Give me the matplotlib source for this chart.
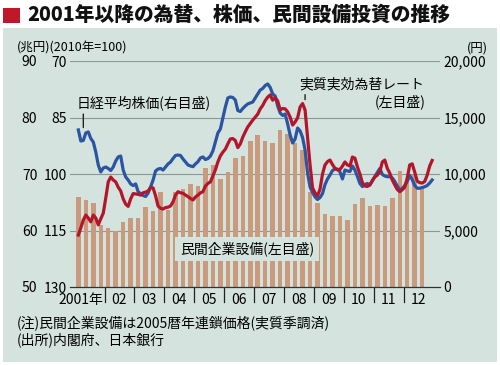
import matplotlib
matplotlib.use('Agg')
import matplotlib.pyplot as plt
from matplotlib.patches import Rectangle
from matplotlib.ticker import FuncFormatter
import matplotlib.transforms as mtransforms

plt.rcParams['font.family'] = ['Noto Sans CJK JP', 'DejaVu Sans']

# 民間企業設備 (兆円, 四半期, 2001Q1-2012Q3)
capex = [66.0, 65.4, 64.9, 61.0, 60.5, 59.9, 61.5, 62.2, 62.2, 64.2,
         63.5, 66.8, 63.6, 66.9, 67.3, 68.2, 67.8, 71.0, 71.6, 69.2,
         70.4, 72.8, 73.2, 75.8, 76.9, 75.8, 75.5, 77.8, 77.1, 75.4,
         74.2, 66.9, 64.8, 63.0, 62.6, 62.6, 61.9, 64.7, 65.8, 64.4,
         64.5, 64.4, 65.8, 70.6, 68.5, 69.8, 67.7]

# 日経平均株価 (円, 月次, 2001/1-2012/11)
nikkei = [13900, 12920, 12970, 13630, 13720, 13140, 12830, 11950, 10800, 10180, 10530, 10620,
          10490, 10310, 10620, 11150, 11510, 11590, 10350, 9740, 9470, 9120, 8980, 9120,
          8430, 8270, 8100, 8010, 8320, 8850, 9470, 10270, 10440, 10490, 10350, 10620,
          10890, 11060, 11370, 11640, 11680, 11640, 11330, 11060, 10800, 10710, 10650, 10890,
          11090, 11420, 11510, 11280, 11370, 11590, 12040, 12830, 13630, 13980, 14960, 15930,
          16730, 16820, 16770, 16550, 15620, 15530, 15800, 16020, 16200, 16280, 16370, 16730,
          17080, 17430, 17570, 17830, 17970, 17660, 17080, 16900, 16020, 15400, 15180, 15310,
          14430, 13450, 12740, 13100, 14070, 13810, 13230, 12120, 10090, 8850, 8360, 7970,
          7740, 7920, 8270, 9070, 9560, 9910, 10310, 10440, 10440, 10180, 9560, 10350,
          10270, 10220, 10710, 10350, 9780, 9160, 8890, 9070, 9160, 9030, 9380, 9780,
          10130, 10490, 9960, 9820, 9760, 9760, 9650, 9340, 8940, 8580, 8720, 8980,
          9340, 9870, 9510, 8980, 8740, 8740, 8810, 8870, 8980, 9200, 9470]

# 実質実効為替レート (2010年=100, 月次, 2001/1-2012/11)
reer = [116.2, 114.3, 112.2, 110.9, 111.7, 112.7, 110.9, 111.7, 113.5, 111.9, 110.4, 106.4,
        102.1, 100.8, 101.6, 102.1, 103.5, 104.5, 106.6, 108.0, 108.6, 106.6, 105.2, 105.3,
        105.4, 105.6, 105.0, 104.8, 104.5, 103.6, 103.7, 105.8, 108.5, 109.1, 109.3, 108.9,
        108.8, 108.5, 107.4, 105.6, 104.7, 105.0, 105.1, 105.6, 106.0, 106.5, 106.9, 106.1,
        105.6, 105.0, 104.7, 103.2, 102.5, 102.1, 100.5, 98.9, 96.8, 95.2, 94.2, 93.4,
        92.0, 90.7, 90.6, 91.1, 93.0, 92.0, 90.2, 88.8, 87.5, 86.6, 85.7, 84.9,
        84.1, 82.7, 81.8, 80.5, 79.6, 79.0, 80.4, 79.8, 80.6, 83.0, 82.6, 82.7,
        83.5, 84.9, 87.0, 86.2, 85.1, 82.2, 81.3, 83.0, 90.4, 97.6, 103.7, 105.0,
        105.8, 104.0, 100.0, 97.6, 96.7, 96.3, 97.5, 98.5, 98.9, 98.8, 97.9, 96.8,
        97.6, 97.9, 95.5, 95.8, 98.1, 100.0, 102.3, 103.2, 103.3, 102.9, 101.7, 100.8,
        100.3, 99.4, 96.8, 96.3, 98.5, 99.8, 101.6, 102.9, 104.1, 104.7, 104.2, 103.5,
        101.1, 97.6, 97.3, 99.5, 101.9, 102.3, 102.4, 102.0, 100.3, 97.9, 96.4]

year_labels = ['2001年', '02', '03', '04', '05', '06', '07', '08', '09', '10', '11', '12']
first_year = 2001

W, H = 500, 365
BG = '#d5e3df'
BAR = '#c99a7c'
BLUE = '#2b55a3'
RED = '#b3162b'
GRID = '#8a9896'


def fx(px):
    return px / W


def fy(py):
    return 1 - py / H


q_x = [first_year + (i + 0.5) / 4 for i in range(len(capex))]
m_x = [first_year + (i + 1.5) / 12 for i in range(len(nikkei))]

fig = plt.figure(figsize=(5, 3.65), dpi=100)
fig.patch.set_facecolor('white')
fig.patches.append(Rectangle((fx(3), fy(362)), fx(494), 334 / H, transform=fig.transFigure,
                             facecolor=BG, edgecolor='none', zorder=-5))
fig.patches.append(Rectangle((fx(3), fy(23)), fx(17), 15 / H, transform=fig.transFigure,
                             facecolor='#c0182a', edgecolor='none'))
fig.text(fx(27), fy(14.5), '2001年以降の為替、株価、民間設備投資の推移', fontsize=14.2,
         fontweight='black', va='center', ha='left', color='#111111')

ax = fig.add_axes([fx(70), fy(287), fx(370), 226 / H])
ax.set_facecolor('none')
ax_n = ax.twinx()
ax_r = ax.twinx()

# bars
ax.bar(q_x, capex, width=0.15, bottom=0, color=BAR, zorder=2)
ax.set_ylim(50, 90)
ax.set_xlim(first_year - 4.6 / 29.9, first_year + 365.4 / 29.9)
for v in [60, 70, 80, 90]:
    ax.axhline(v, color=GRID, lw=0.8, zorder=0)
ax.set_yticks([50, 60, 70, 80, 90])
ax.tick_params(axis='y', length=0, pad=23.5, labelsize=10)
ax.set_xticks([])
for s in ['top', 'left', 'right']:
    ax.spines[s].set_visible(False)
ax.spines['bottom'].set_color('#333333')
ax.spines['bottom'].set_linewidth(0.9)

# year separators and labels
trans = mtransforms.blended_transform_factory(ax.transData, ax.transAxes)
n_years = len(year_labels)
for k in range(1, n_years):
    ax.plot([first_year + k, first_year + k], [0, -0.068], transform=trans,
            color='#222222', lw=0.9, clip_on=False)
for k, lab in enumerate(year_labels):
    if k == 0:
        ax.text(first_year + 0.95, -0.056, lab, transform=trans, ha='right', va='center', fontsize=10)
    else:
        ax.text(first_year + k + 0.5, -0.056, lab, transform=trans, ha='center', va='center', fontsize=10)

# nikkei (right axis)
ax_n.plot(m_x, nikkei, color=BLUE, lw=2.3, solid_joinstyle='round')
ax_n.set_ylim(0, 20000)
ax_n.set_yticks([0, 5000, 10000, 15000, 20000])
ax_n.yaxis.set_major_formatter(FuncFormatter(lambda v, p: f'{int(v):,}'))
ax_n.tick_params(axis='y', length=0, pad=2.5, labelsize=10)
for s in ax_n.spines.values():
    s.set_visible(False)

# real effective exchange rate (left, inverted)
ax_r.plot(m_x, reer, color=RED, lw=2.3, solid_joinstyle='round')
ax_r.set_ylim(130, 70)
ax_r.set_yticks([70, 85, 100, 115, 130])
ax_r.yaxis.tick_left()
ax_r.tick_params(axis='y', length=0, pad=2.5, labelsize=10)
for s in ax_r.spines.values():
    s.set_visible(False)

# unit labels
fig.text(fx(17), fy(48), '(兆円)(2010年=100)', fontsize=9, va='center', ha='left')
fig.text(fx(488), fy(48), '(円)', fontsize=9, va='center', ha='right')

# series labels
fig.text(fx(77), fy(103), '日経平均株価(右目盛)', fontsize=10, va='center', ha='left')
ax_n.annotate('', xy=(m_x[2], nikkei[2] + 900), xytext=(m_x[2], 15550),
              arrowprops=dict(arrowstyle='-', color='#222222', lw=1))
fig.text(fx(299), fy(84), '実質実効為替レート', fontsize=10, va='center', ha='left')
fig.text(fx(426), fy(102), '(左目盛)', fontsize=10, va='center', ha='right')
ax_r.annotate('', xy=(m_x[91], reer[90] - 0.3), xytext=(m_x[91], 78.2),
              arrowprops=dict(arrowstyle='-', color='#222222', lw=1))
fig.text(fx(247), fy(249), '民間企業設備(左目盛)', fontsize=10, va='center', ha='center',
         bbox=dict(boxstyle='square,pad=0.35', facecolor=BG, edgecolor='none'))

# notes
fig.text(fx(17), fy(323), '(注)民間企業設備は2005暦年連鎖価格(実質季調済)', fontsize=10, va='center', ha='left')
fig.text(fx(17), fy(340), '(出所)内閣府、日本銀行', fontsize=10, va='center', ha='left')

fig.savefig('out.png', dpi=100, facecolor=fig.get_facecolor())
